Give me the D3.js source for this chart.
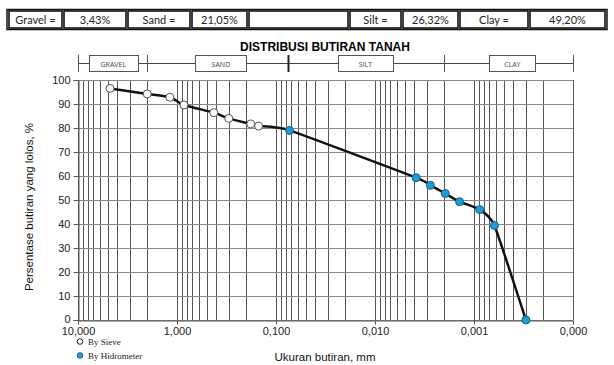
<!DOCTYPE html>
<html>
<head>
<meta charset="utf-8">
<script src="https://cdn.jsdelivr.net/npm/d3@7"></script>
<style>
  body { margin: 0; background: #fff; }
  svg { display: block; }
</style>
</head>
<body>
<svg id="chart" width="614" height="365"></svg>
<script>
// summary row above the chart
var tableCells = ['Gravel =', '3,43%', 'Sand =', '21,05%', '', 'Silt =', '26,32%', 'Clay =', '49,20%']
var tableEdges = [8, 63, 127, 191, 248, 349, 402, 459, 529, 606]

// soil classes: boundaries (mm) and label positions (mm)
var classBounds = [10, 2, 0.075, 0.002, 0.0001]
var classNames = ['GRAVEL', 'SAND', 'SILT', 'CLAY']
var classMid = [4.4, 0.36, 0.0125, 0.00041]
var classBoxW = [49, 51, 55, 46]

// sieve analysis
var sieveSize = [4.75, 2.0, 1.18, 0.85, 0.425, 0.30, 0.18, 0.15]
var sievePass = [96.5, 94.2, 92.8, 89.6, 86.4, 84.0, 81.7, 80.8]

// hydrometer analysis
var hydroSize = [0.073, 0.00385, 0.00276, 0.00195, 0.0014, 0.000876, 0.000622, 0.000299]
var hydroPass = [79.0, 59.3, 56.1, 52.7, 49.3, 46.0, 39.4, 0]

var yTicks = [0, 10, 20, 30, 40, 50, 60, 70, 80, 90, 100]
var xDecades = [10, 1, 0.1, 0.01, 0.001, 0.0001]

var svg = d3.select('#chart')
var sans = 'Liberation Sans, Arial, sans-serif'

var x = d3.scaleLog().domain([10, 0.0001]).range([78, 573])
var y = d3.scaleLinear().domain([0, 100]).range([320, 80])

var locale = d3.formatLocale({ decimal: ',', thousands: '.', grouping: [3], currency: ['', ''] })
var fmt = locale.format('.3f')

// ---- table
var table = svg.append('g')
tableCells.forEach(function (t, i) {
  var x0 = tableEdges[i], x1 = tableEdges[i + 1]
  table.append('rect')
    .attr('x', x0 + 1).attr('y', 11)
    .attr('width', x1 - x0 - 2).attr('height', 17)
    .attr('fill', '#fff').attr('stroke', '#111').attr('stroke-width', 1.6)
  table.append('text')
    .attr('x', (x0 + x1) / 2).attr('y', 23.5)
    .attr('text-anchor', 'middle')
    .attr('font-family', 'Lato, Open Sans, sans-serif')
    .attr('font-size', 11)
    .attr('fill', '#222')
    .text(t)
})
table.append('rect')
  .attr('x', 7).attr('y', 9.5).attr('width', 600).attr('height', 20)
  .attr('fill', 'none').attr('stroke', '#111').attr('stroke-width', 1.5)

// ---- title
svg.append('text')
  .attr('x', 325).attr('y', 51)
  .attr('text-anchor', 'middle')
  .attr('font-family', sans).attr('font-weight', 'bold').attr('font-size', 12)
  .text('DISTRIBUSI BUTIRAN TANAH')

// ---- class bar
var bar = svg.append('g')
bar.append('line')
  .attr('x1', x(10)).attr('x2', x(0.0001)).attr('y1', 63.5).attr('y2', 63.5)
  .attr('stroke', '#444').attr('stroke-width', 1)
classBounds.forEach(function (b, i) {
  bar.append('line')
    .attr('x1', Math.round(x(b)) + 0.5).attr('x2', Math.round(x(b)) + 0.5)
    .attr('y1', 55).attr('y2', 72)
    .attr('stroke', i === 2 ? '#222' : '#555')
    .attr('stroke-width', i === 2 ? 2 : 1)
})
classNames.forEach(function (n, i) {
  var cx = x(classMid[i])
  bar.append('rect')
    .attr('x', Math.round(cx - classBoxW[i] / 2) + 0.5).attr('y', 55.5)
    .attr('width', classBoxW[i]).attr('height', 16)
    .attr('fill', '#fff').attr('stroke', '#555')
  bar.append('text')
    .attr('x', cx).attr('y', 66.5)
    .attr('text-anchor', 'middle')
    .attr('font-family', 'Open Sans, sans-serif').attr('font-size', 7)
    .attr('fill', '#444')
    .text(n)
})

// ---- grid
var grid = svg.append('g')
var minor = []
xDecades.slice(1).forEach(function (d) {
  for (var k = 1; k <= 9; k++) minor.push(d * k)
})
minor.push(10)
grid.selectAll('line.v')
  .data(minor)
  .join('line')
  .attr('class', 'v')
  .attr('x1', (d) => Math.round(x(d)) + 0.5)
  .attr('x2', (d) => Math.round(x(d)) + 0.5)
  .attr('y1', y(100)).attr('y2', y(0))
  .attr('stroke', '#555').attr('stroke-width', 1)
grid.selectAll('line.h')
  .data(yTicks)
  .join('line')
  .attr('class', 'h')
  .attr('x1', x(10)).attr('x2', x(0.0001))
  .attr('y1', (d) => Math.round(y(d)) + 0.5)
  .attr('y2', (d) => Math.round(y(d)) + 0.5)
  .attr('stroke', '#888').attr('stroke-width', 1)

// ---- axes
var xAxis = d3.axisBottom(x).tickValues(xDecades).tickFormat(fmt).tickSize(4).tickPadding(3)
var gx = svg.append('g')
  .attr('transform', 'translate(0,' + (Math.round(y(0)) + 0.5) + ')')
  .call(xAxis)
gx.select('.domain').attr('stroke', '#555')
gx.selectAll('line').attr('stroke', '#555')
gx.selectAll('text').attr('font-family', sans).attr('font-size', 11).attr('fill', '#222')

var yAxis = d3.axisLeft(y).tickValues(yTicks).tickSize(5).tickPadding(3)
var gy = svg.append('g')
  .attr('transform', 'translate(' + (Math.round(x(10)) + 0.5) + ',0)')
  .call(yAxis)
gy.select('.domain').attr('stroke', '#555')
gy.selectAll('line').attr('stroke', '#555')
gy.selectAll('text').attr('font-family', sans).attr('font-size', 11).attr('fill', '#222')
  .attr('dy', (d) => d === 0 ? '0.22em' : '0.32em')

svg.append('text')
  .attr('transform', 'translate(33,207) rotate(-90)')
  .attr('text-anchor', 'middle')
  .attr('font-family', sans).attr('font-size', 11.5).attr('fill', '#111')
  .text('Persentase butiran yang lolos, %')

svg.append('text')
  .attr('x', 325).attr('y', 361)
  .attr('text-anchor', 'middle')
  .attr('font-family', sans).attr('font-size', 11.5).attr('fill', '#111')
  .text('Ukuran butiran, mm')

// ---- curve
var pts = sieveSize.map((s, i) => ({ s: s, p: sievePass[i], t: 'sieve' }))
  .concat(hydroSize.map((s, i) => ({ s: s, p: hydroPass[i], t: 'hydro' })))

var line = d3.line()
  .x((d) => x(d.s))
  .y((d) => y(d.p))
  .curve(d3.curveCardinal.tension(0.5))

svg.append('path')
  .datum(pts)
  .attr('d', line)
  .attr('fill', 'none')
  .attr('stroke', '#111')
  .attr('stroke-width', 2.5)

svg.append('g').selectAll('circle')
  .data(pts)
  .join('circle')
  .attr('cx', (d) => x(d.s))
  .attr('cy', (d) => y(d.p))
  .attr('r', 4)
  .attr('fill', (d) => d.t === 'sieve' ? '#fff' : '#1e9ad6')
  .attr('stroke', (d) => d.t === 'sieve' ? '#555' : '#17618a')
  .attr('stroke-width', 1)

// ---- legend
var legend = svg.append('g')
legend.append('circle').attr('cx', 80).attr('cy', 341.5).attr('r', 2.8)
  .attr('fill', '#fff').attr('stroke', '#222').attr('stroke-width', 1)
legend.append('text').attr('x', 88).attr('y', 345)
  .attr('font-family', 'Liberation Serif, serif').attr('font-size', 9).attr('fill', '#222')
  .text('By Sieve')
legend.append('circle').attr('cx', 80).attr('cy', 355.5).attr('r', 2.8)
  .attr('fill', '#1e9ad6').attr('stroke', '#17618a').attr('stroke-width', 1)
legend.append('text').attr('x', 88).attr('y', 359)
  .attr('font-family', 'Liberation Serif, serif').attr('font-size', 9).attr('fill', '#222')
  .text('By Hidrometer')
</script>
</body>
</html>
